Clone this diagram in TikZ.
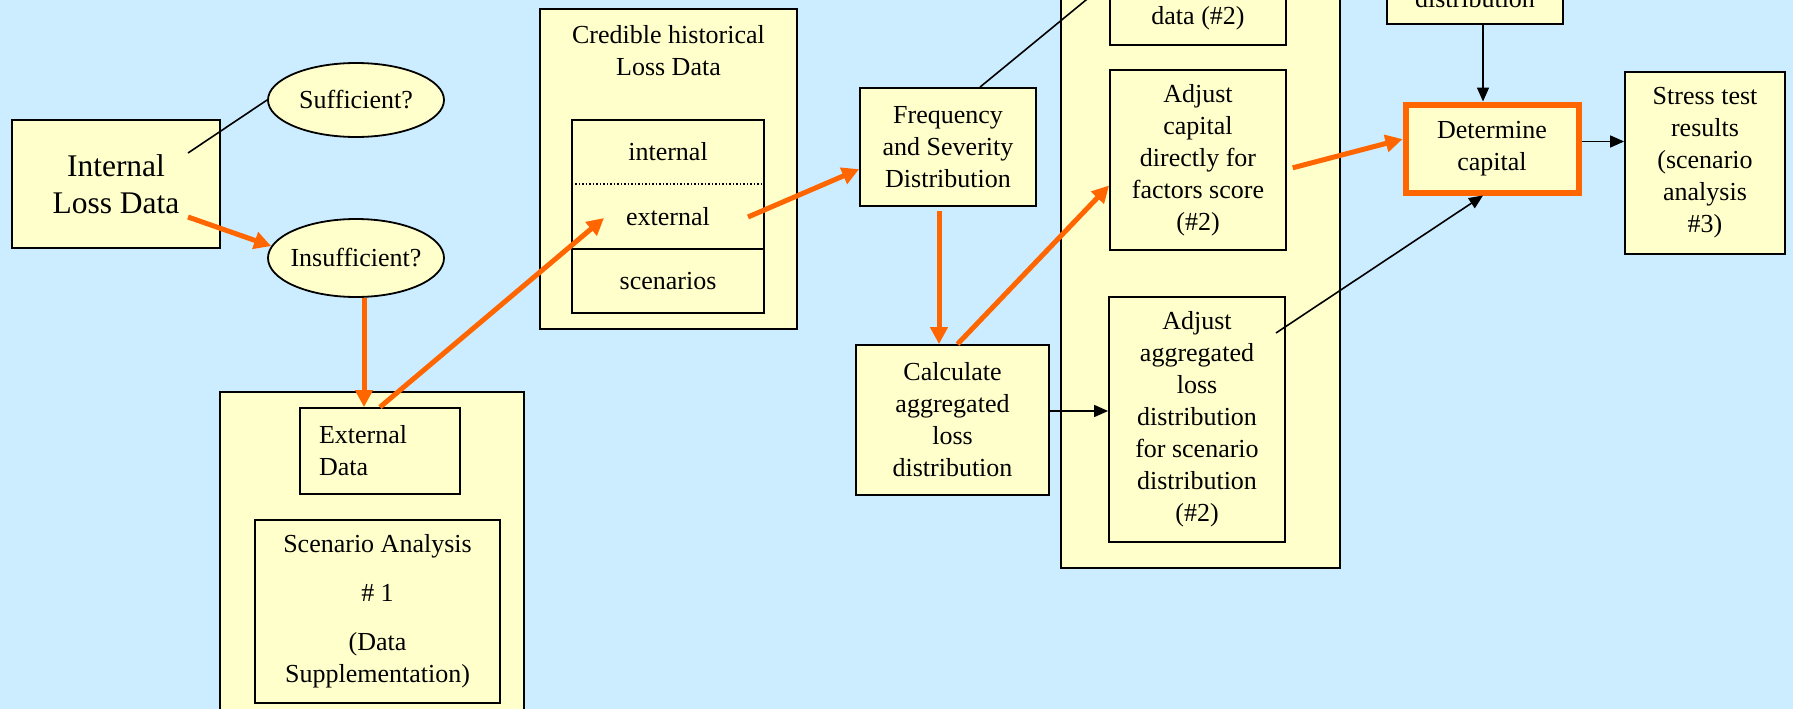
\documentclass[tikz,border=0pt]{standalone}
\usepackage{fontspec}
\setmainfont{Liberation Serif}
\usetikzlibrary{shapes.geometric,arrows.meta}
\definecolor{skyback}{RGB}{204,236,255}
\definecolor{paleyellow}{RGB}{255,255,204}
\definecolor{hotorange}{RGB}{255,102,0}

\begin{document}
\begin{tikzpicture}[x=1pt,y=-1pt,font=\fontsize{26}{32}\selectfont,
  infobox/.style={rectangle,draw,line width=1.8pt,fill=paleyellow,align=center,inner sep=8pt},
  panel/.style={rectangle,draw,line width=1.8pt,fill=paleyellow},
  bubble/.style={ellipse,draw,line width=1.8pt,fill=paleyellow,inner xsep=-12pt,inner ysep=0pt},
  hotbox/.style={rectangle,draw=hotorange,line width=6pt,fill=paleyellow,align=center},
  hotline/.style={draw=hotorange,line width=5pt,-{Triangle[length=17pt,width=17pt]}},
  plainline/.style={draw,line width=1.6pt},
  darkarrow/.style={draw,line width=1.6pt,-{Triangle[length=14pt,width=12pt]}}]

	\useasboundingbox (0,0) rectangle (1793,709);
	\fill[skyback] (0,0) rectangle (1793,709);
	\clip (0,0) rectangle (1793,709);

	% containers
	\node[panel,minimum width=304pt,minimum height=368pt] (leftpanel) at (372,576) {};
	\node[panel,minimum width=257pt,minimum height=320pt] (cred) at (668.5,169) {};
	\node[panel,minimum width=279pt,minimum height=668pt] (rightpanel) at (1200.5,234) {};

	% internal data and the two questions
	\node[infobox,minimum width=208pt,minimum height=128pt,font=\fontsize{31.5}{37}\selectfont] (ild) at (116,184) {Internal\\Loss Data};
	\node[bubble,minimum width=176pt,minimum height=74pt] (suf) at (356,100) {Sufficient?};
	\node[bubble,minimum width=176pt,minimum height=78pt] (ins) at (356,258) {Insufficient?};
	\node[infobox,minimum width=160pt,minimum height=86pt,text width=122pt,align=left,inner xsep=19pt] (ext) at (380,451) {External\\Data};
	\node[infobox,minimum width=245pt,minimum height=183pt] (scen) at (377.5,611.5) {Scenario Analysis\\[17pt]\# 1\\[17pt](Data\\Supplementation)};

	% credible historical data
	\node[align=center] (credtitle) at (668.5,51) {Credible historical\\Loss Data};
	\node[draw,line width=1.8pt,minimum width=192pt,minimum height=193pt] (table) at (668,216.5) {};
	\node[minimum width=192pt,minimum height=64pt] (intcell) at (668,152) {internal};
	\node[minimum width=192pt,minimum height=65pt] (extcell) at (668,216.5) {external};
	\node[minimum width=192pt,minimum height=64pt] (scencell) at (668,281) {scenarios};
	\draw[dotted,line width=1.5pt] (intcell.south west) -- (intcell.south east);
	\draw[line width=1.8pt] (extcell.south west) -- (extcell.south east);

	% distributions and capital
	\node[infobox,minimum width=176pt,minimum height=118pt] (freq) at (948,147) {Frequency\\and Severity\\Distribution};
	\node[infobox,minimum width=193pt,minimum height=150pt] (calc) at (952.5,420) {Calculate\\aggregated\\loss\\distribution};
	\node[infobox,minimum width=176pt,text height=100pt,text depth=12pt,anchor=base] (dataB) at (1198,25) {data (\#2)};
	\node[infobox,minimum width=176pt,minimum height=180pt] (adjcap) at (1198,160) {Adjust\\capital\\directly for\\factors score\\(\#2)};
	\node[infobox,minimum width=176pt,minimum height=245pt] (adjagg) at (1197,419.5) {Adjust\\aggregated\\loss\\distribution\\for scenario\\distribution\\(\#2)};
	\node[infobox,minimum width=176pt,text height=100pt,text depth=8pt,anchor=base] (distB) at (1475,8) {distribution};
	\node[hotbox,minimum width=173pt,minimum height=88pt] (det) at (1492,148.5) {Determine\\capital};
	\node[infobox,minimum width=160pt,minimum height=182pt] (stress) at (1705,163) {Stress test\\results\\(scenario\\analysis\\\#3)};

	\coordinate (ildTop) at (188,153);
	\coordinate (ildLow) at (188,217);
	\coordinate (extIn) at (604,218);
	\coordinate (extOut) at (748,217);
	\coordinate (aggOut) at (1276,333);

	% orange path
	\draw[hotline] (ildLow) -- (ins.172);
	\draw[hotline] ([xshift=8pt]ins.south) -- ([xshift=8pt]ins.south |- ext.north);
	\draw[hotline] (ext.north) -- (extIn);
	\draw[hotline] (extOut) -- (freq.194);
	\draw[hotline,shorten <=4pt] ([xshift=-9pt]freq.south) -- ([xshift=-9pt]freq.south |- calc.north);
	\draw[hotline] ([xshift=5pt]calc.north) -- (adjcap.196);
	\draw[hotline,shorten <=6pt] (adjcap.-6) -- (det.174);

	% black links
	\draw[plainline] (ildTop) -- (suf.west);
	\draw[darkarrow] ([xshift=32pt]freq.north) -- (dataB.west);
	\draw[darkarrow] ([yshift=9pt]calc.east) -- ([yshift=9pt]calc.east -| adjagg.west);
	\draw[darkarrow] (aggOut) -- ([xshift=-9pt]det.south);
	\draw[darkarrow] ([xshift=-9pt]det.north |- distB.south) -- ([xshift=-9pt]det.north);
	\draw[darkarrow] ([yshift=7pt]det.east) -- ([yshift=7pt]det.east -| stress.west);

\end{tikzpicture}
\end{document}
